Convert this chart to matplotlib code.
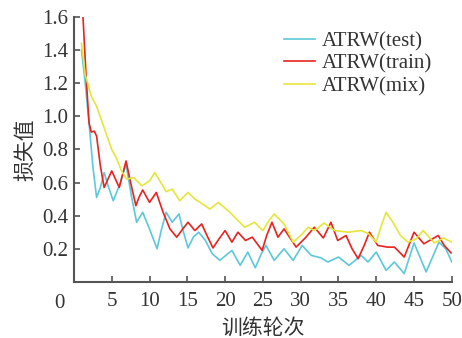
import matplotlib
matplotlib.use("Agg")
import matplotlib.pyplot as plt

plt.rcParams['font.family'] = ['Liberation Serif', 'Noto Sans CJK SC']
plt.rcParams['axes.unicode_minus'] = False

# values (epoch, loss)
test_ep = [1.0, 1.5, 2.0, 2.5, 3.0, 3.5, 4.0, 4.6, 5.2, 6.0, 6.9, 7.6, 8.3, 9.1,
           10.0, 11.0, 11.6, 12.2, 13.0, 13.9, 14.5, 15.1, 15.8, 16.5, 17.4,
           18.3, 19.3, 20.1, 20.9, 22.0, 23.0, 24.0, 24.8, 25.4, 26.5, 27.8,
           29.0, 30.2, 31.4, 32.7, 33.6, 35.0, 36.4, 38.0, 38.9, 40.0, 41.3,
           42.4, 43.7, 45.0, 46.6, 48.3, 49.2, 50.0]
test_loss = [1.40, 1.20, 0.96, 0.70, 0.51, 0.57, 0.66, 0.57, 0.49, 0.58, 0.71,
             0.52, 0.36, 0.42, 0.32, 0.20, 0.32, 0.42, 0.36, 0.41, 0.30, 0.205,
             0.27, 0.30, 0.25, 0.17, 0.13, 0.16, 0.19, 0.10, 0.18, 0.085, 0.17,
             0.22, 0.13, 0.20, 0.13, 0.22, 0.16, 0.145, 0.12, 0.15, 0.10, 0.16,
             0.12, 0.18, 0.07, 0.12, 0.05, 0.235, 0.06, 0.24, 0.20, 0.12]

train_ep = [1.2, 1.6, 2.0, 2.3, 2.7, 3.0, 3.5, 4.0, 4.5, 5.0, 5.5, 6.0, 6.5, 6.9,
            7.5, 8.2, 8.6, 9.1, 10.0, 10.9, 11.8, 12.7, 13.6, 14.4, 15.1, 16.0,
            16.9, 17.6, 18.4, 19.2, 20.0, 20.9, 21.7, 22.7, 23.6, 24.9, 25.5,
            26.2, 27.0, 27.8, 29.4, 30.7, 31.8, 33.0, 34.0, 34.9, 36.0, 36.8,
            37.6, 38.4, 39.1, 40.2, 41.5, 42.4, 43.7, 45.0, 46.3, 48.2, 49.0, 49.9]
train_loss = [1.60, 1.25, 0.96, 0.905, 0.91, 0.88, 0.70, 0.57, 0.62, 0.67, 0.62,
              0.57, 0.66, 0.73, 0.60, 0.46, 0.51, 0.555, 0.48, 0.54, 0.42, 0.32,
              0.27, 0.32, 0.36, 0.31, 0.35, 0.28, 0.205, 0.26, 0.31, 0.24, 0.30,
              0.25, 0.27, 0.19, 0.28, 0.36, 0.27, 0.32, 0.21, 0.27, 0.33, 0.265,
              0.36, 0.25, 0.28, 0.20, 0.14, 0.22, 0.30, 0.22, 0.21, 0.21, 0.15,
              0.30, 0.23, 0.28, 0.22, 0.175]

mix_ep = [1.0, 1.5, 2.3, 3.0, 4.0, 5.0, 5.6, 6.3, 7.0, 7.9, 9.0, 10.0, 10.7, 11.5,
          12.2, 13.0, 14.0, 15.1, 16.0, 16.7, 18.0, 19.1, 20.4, 21.5, 22.6, 23.9,
          25.0, 25.8, 26.5, 27.8, 29.0, 30.0, 31.0, 31.8, 33.1, 34.5, 36.3, 38.0,
          39.0, 40.0, 40.6, 41.3, 42.2, 43.2, 44.2, 45.3, 46.2, 47.0, 47.7, 48.9,
          50.0]
mix_loss = [1.44, 1.25, 1.12, 1.06, 0.93, 0.80, 0.75, 0.67, 0.62, 0.63, 0.58,
            0.61, 0.66, 0.60, 0.545, 0.56, 0.49, 0.54, 0.50, 0.48, 0.44, 0.48,
            0.43, 0.38, 0.33, 0.36, 0.31, 0.37, 0.41, 0.35, 0.24, 0.28, 0.33,
            0.31, 0.355, 0.31, 0.30, 0.31, 0.29, 0.24, 0.33, 0.42, 0.36, 0.28,
            0.24, 0.26, 0.31, 0.27, 0.235, 0.265, 0.24]

labels = ["ATRW(test)", "ATRW(train)", "ATRW(mix)"]
colors = ["#5cc8d9", "#e8221e", "#e6e63a"]

fig = plt.figure(figsize=(4.62, 3.38), dpi=100)
ax = fig.add_axes([0.160, 0.166, 0.818, 0.784])

ax.plot(test_ep, test_loss, color=colors[0], lw=1.2, label=labels[0])
ax.plot(train_ep, train_loss, color=colors[1], lw=1.2, label=labels[1])
ax.plot(mix_ep, mix_loss, color=colors[2], lw=1.2, label=labels[2])

ax.set_xlim(0, 50)
ax.set_ylim(0, 1.6)
ax.set_xticks(range(5, 51, 5))
ax.set_yticks([0.2, 0.4, 0.6, 0.8, 1.0, 1.2, 1.4, 1.6])
ax.set_yticklabels(["0.2", "0.4", "0.6", "0.8", "1.0", "1.2", "1.4", "1.6"])
ax.annotate("0", xy=(0, 0), xycoords="axes fraction", xytext=(-14, -22),
            textcoords="offset pixels", ha="center", va="center",
            fontsize=15, color="#333333")

for s in ["top", "right"]:
    ax.spines[s].set_visible(False)
for s in ["left", "bottom"]:
    ax.spines[s].set_color("#555555")
    ax.spines[s].set_linewidth(1.5)
ax.tick_params(direction="in", length=4, width=1.2, color="#555555",
               labelsize=15, labelcolor="#333333", pad=4)
ax.tick_params(axis="x", pad=7)

ax.set_xlabel("训练轮次", fontsize=15, color="#333333", labelpad=6)
ax.set_ylabel("损失值", fontsize=15, color="#333333", labelpad=4)

ax.legend(loc="upper right", bbox_to_anchor=(0.985, 1.0), frameon=False,
          fontsize=15, handlelength=1.5, handletextpad=0.3, labelspacing=0.15,
          borderpad=0.2, labelcolor="#333333")

fig.savefig("out.png", dpi=100)
